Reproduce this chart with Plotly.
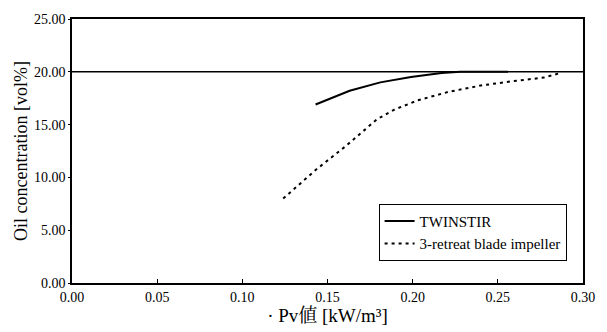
import plotly.graph_objects as go

# Data
twinstir_x = [0.143, 0.163, 0.181, 0.199, 0.217, 0.228, 0.256]
twinstir_y = [16.9, 18.2, 19.0, 19.5, 19.88, 20.0, 20.0]

retreat_x = [0.124, 0.143, 0.161, 0.179, 0.189, 0.203, 0.221, 0.240, 0.258, 0.277, 0.287]
retreat_y = [8.0, 10.7, 13.0, 15.5, 16.4, 17.3, 18.1, 18.7, 19.1, 19.45, 19.9]

baseline_x = [0.0, 0.30]
baseline_y = [20.0, 20.0]

x_ticks = [0.00, 0.05, 0.10, 0.15, 0.20, 0.25, 0.30]
y_ticks = [0, 5, 10, 15, 20, 25]

FONT = "Liberation Serif, Times New Roman, Noto Serif CJK JP, Noto Sans CJK JP, serif"

fig = go.Figure()
fig.add_trace(go.Scatter(x=baseline_x, y=baseline_y, mode="lines",
                         line=dict(color="black", width=1.6), showlegend=False,
                         hoverinfo="skip"))
fig.add_trace(go.Scatter(x=twinstir_x, y=twinstir_y, mode="lines", name="TWINSTIR",
                         line=dict(color="black", width=2)))
fig.add_trace(go.Scatter(x=retreat_x, y=retreat_y, mode="lines",
                         name="3-retreat blade impeller",
                         line=dict(color="black", width=2, dash="3px,4px")))

fig.update_layout(
    width=607, height=332,
    margin=dict(l=72, r=17, t=15, b=45),
    paper_bgcolor="white", plot_bgcolor="white",
    font=dict(family=FONT, size=14, color="black"),
    legend=dict(x=0.6, y=0.30, xanchor="left", yanchor="top",
                bordercolor="black", borderwidth=1, bgcolor="white",
                font=dict(family=FONT, size=15, color="black"),
                tracegroupgap=0, itemwidth=30),
)
fig.update_xaxes(range=[0, 0.30], tickvals=x_ticks, tickformat=".2f",
                 showgrid=False, zeroline=False, showline=True, linecolor="black",
                 linewidth=1.5, mirror=True, ticks="inside", ticklen=4,
                 tickcolor="black", tickfont=dict(family=FONT, size=14),
                 title=dict(text="· Pv値 [kW/m³]", font=dict(family=FONT, size=19),
                            standoff=2))
fig.update_yaxes(range=[0, 25], tickvals=y_ticks, tickformat=".2f",
                 showgrid=False, zeroline=False, showline=True, linecolor="black",
                 linewidth=1.5, mirror=True, ticks="outside", ticklen=2,
                 tickcolor="black", tickfont=dict(family=FONT, size=14),
                 title=dict(text="Oil concentration [vol%]",
                            font=dict(family=FONT, size=18), standoff=2))

fig.write_html("out.html", config={"displayModeBar": False},
               post_script="document.body.style.margin='0';")
